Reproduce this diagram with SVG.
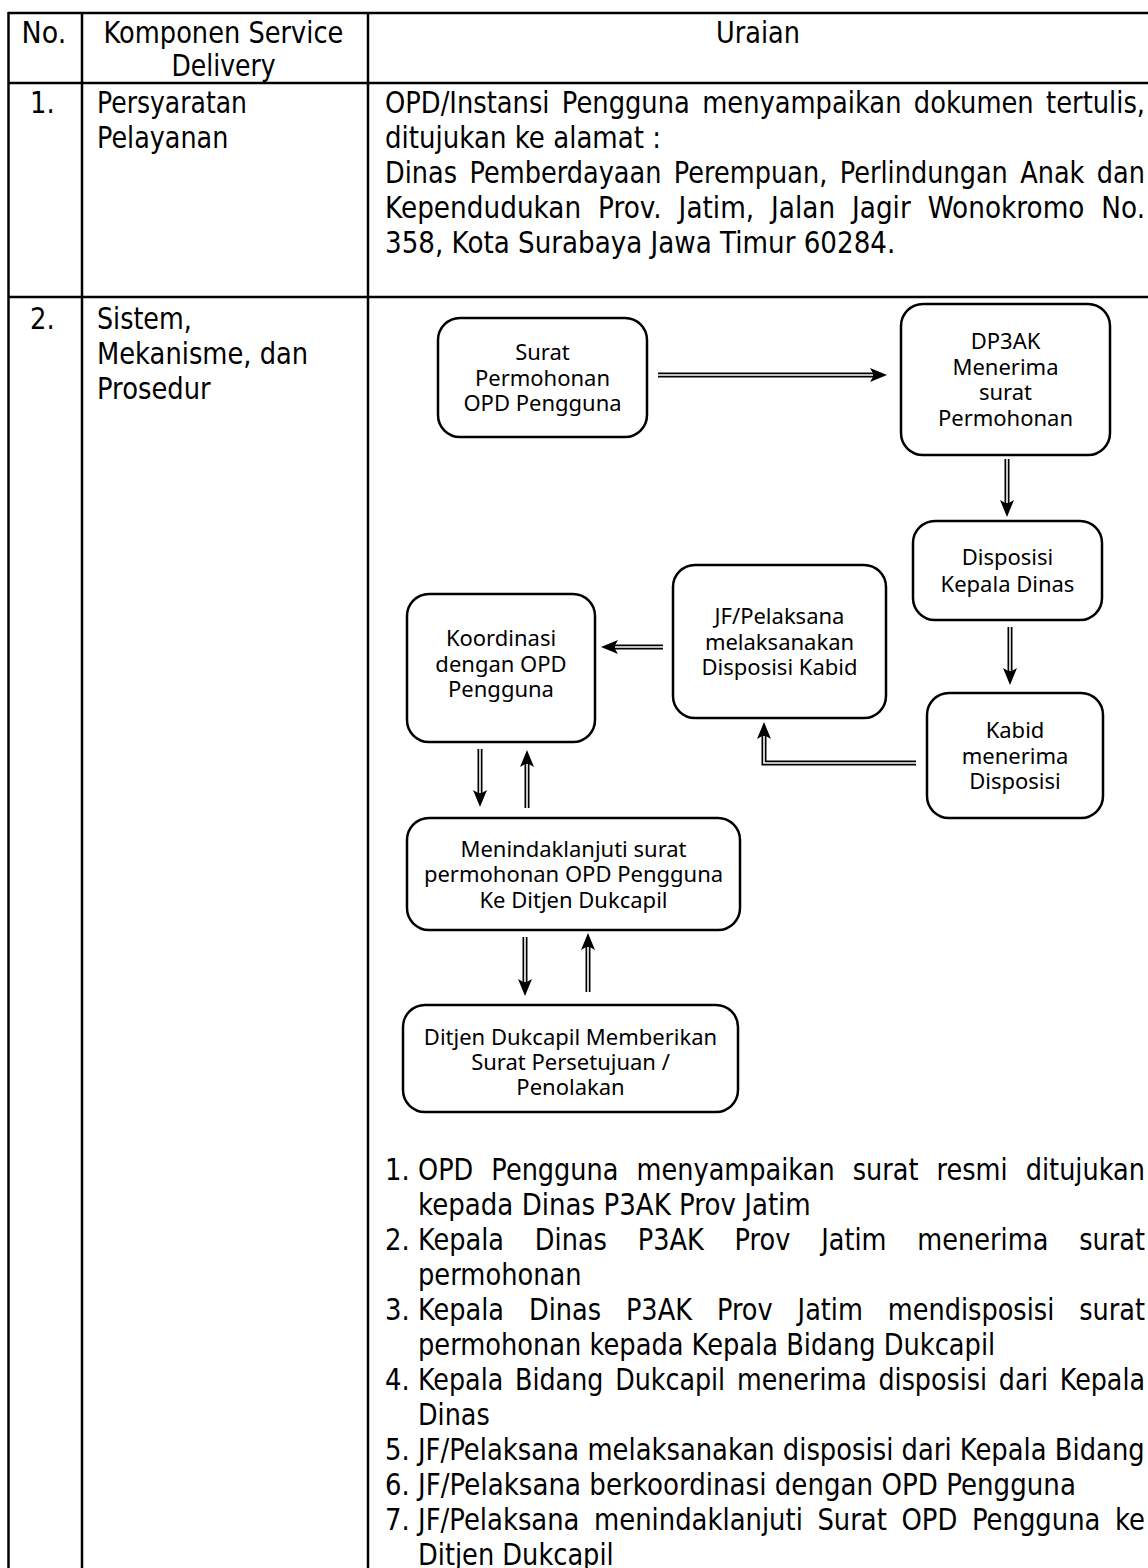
<svg xmlns="http://www.w3.org/2000/svg" width="1148" height="1568" viewBox="0 0 1148 1568">
<style>
.tb{font-family:"DejaVu Sans",sans-serif;font-size:29.4px;fill:#000}
.grid line{stroke:#000;stroke-width:2.5}
.nd rect{fill:#fff;stroke:#000;stroke-width:2.5}
.nd text{font-family:"Noto Sans",sans-serif;font-size:22px;fill:#000;text-anchor:middle}
.cb{fill:none;stroke:#000;stroke-width:5;marker-end:url(#ah)}
.cw{fill:none;stroke:#fff;stroke-width:1.6}
</style>
<defs>
<marker id="ah" markerUnits="userSpaceOnUse" markerWidth="18" markerHeight="16" refX="7" refY="7" orient="auto" overflow="visible">
<path d="M0,0 L17,7 L0,14 L4,7 Z" fill="#000"/>
</marker>
</defs>
<rect width="1148" height="1568" fill="#fff"/>
<g class="grid">
<line x1="8" y1="13" x2="1150" y2="13"/>
<line x1="8" y1="83" x2="1150" y2="83"/>
<line x1="8" y1="297" x2="1150" y2="297"/>
<line x1="8.5" y1="12" x2="8.5" y2="1570"/>
<line x1="82" y1="12" x2="82" y2="1570"/>
<line x1="368" y1="12" x2="368" y2="1570"/>
</g>
<g id="table-text" class="tb">
<text x="21.6" y="43" textLength="44.7" lengthAdjust="spacingAndGlyphs">No.</text>
<text x="103.5" y="43" textLength="239.9" lengthAdjust="spacingAndGlyphs">Komponen Service</text>
<text x="171.4" y="76" textLength="104.3" lengthAdjust="spacingAndGlyphs">Delivery</text>
<text x="716" y="43" textLength="83.9" lengthAdjust="spacingAndGlyphs">Uraian</text>
<text x="30" y="113" textLength="24.7" lengthAdjust="spacingAndGlyphs">1.</text>
<text x="97" y="113" textLength="150" lengthAdjust="spacingAndGlyphs">Persyaratan</text>
<text x="97" y="148" textLength="131.3" lengthAdjust="spacingAndGlyphs">Pelayanan</text>
<text x="385" y="113" textLength="760" lengthAdjust="spacingAndGlyphs" style="word-spacing:4.8px">OPD/Instansi Pengguna menyampaikan dokumen tertulis,</text>
<text x="385" y="148" textLength="276" lengthAdjust="spacingAndGlyphs">ditujukan ke alamat :</text>
<text x="385" y="183" textLength="760" lengthAdjust="spacingAndGlyphs" style="word-spacing:4.9px">Dinas Pemberdayaan Perempuan, Perlindungan Anak dan</text>
<text x="385" y="218" textLength="760" lengthAdjust="spacingAndGlyphs" style="word-spacing:9.5px">Kependudukan Prov. Jatim, Jalan Jagir Wonokromo No.</text>
<text x="385" y="253" textLength="510.3" lengthAdjust="spacingAndGlyphs">358, Kota Surabaya Jawa Timur 60284.</text>
<text x="30" y="329" textLength="24.7" lengthAdjust="spacingAndGlyphs">2.</text>
<text x="97" y="329" textLength="94.8" lengthAdjust="spacingAndGlyphs">Sistem,</text>
<text x="97" y="364" textLength="211.2" lengthAdjust="spacingAndGlyphs">Mekanisme, dan</text>
<text x="97" y="399" textLength="113.7" lengthAdjust="spacingAndGlyphs">Prosedur</text>
<text x="385" y="1180" textLength="24.7" lengthAdjust="spacingAndGlyphs">1.</text>
<text x="418" y="1180" textLength="727" lengthAdjust="spacingAndGlyphs" style="word-spacing:11.4px">OPD Pengguna menyampaikan surat resmi ditujukan</text>
<text x="418" y="1215" textLength="392.8" lengthAdjust="spacingAndGlyphs">kepada Dinas P3AK Prov Jatim</text>
<text x="385" y="1250" textLength="24.7" lengthAdjust="spacingAndGlyphs">2.</text>
<text x="418" y="1250" textLength="727" lengthAdjust="spacingAndGlyphs" style="word-spacing:26px">Kepala Dinas P3AK Prov Jatim menerima surat</text>
<text x="418" y="1285" textLength="163.6" lengthAdjust="spacingAndGlyphs">permohonan</text>
<text x="385" y="1320" textLength="24.7" lengthAdjust="spacingAndGlyphs">3.</text>
<text x="418" y="1320" textLength="727" lengthAdjust="spacingAndGlyphs" style="word-spacing:19.3px">Kepala Dinas P3AK Prov Jatim mendisposisi surat</text>
<text x="418" y="1355" textLength="577.2" lengthAdjust="spacingAndGlyphs">permohonan kepada Kepala Bidang Dukcapil</text>
<text x="385" y="1390" textLength="24.7" lengthAdjust="spacingAndGlyphs">4.</text>
<text x="418" y="1390" textLength="727" lengthAdjust="spacingAndGlyphs" style="word-spacing:4.35px">Kepala Bidang Dukcapil menerima disposisi dari Kepala</text>
<text x="418" y="1425" textLength="71.7" lengthAdjust="spacingAndGlyphs">Dinas</text>
<text x="385" y="1460" textLength="24.7" lengthAdjust="spacingAndGlyphs">5.</text>
<text x="418" y="1460" textLength="726.7" lengthAdjust="spacingAndGlyphs">JF/Pelaksana melaksanakan disposisi dari Kepala Bidang</text>
<text x="385" y="1495" textLength="24.7" lengthAdjust="spacingAndGlyphs">6.</text>
<text x="418" y="1495" textLength="657.9" lengthAdjust="spacingAndGlyphs">JF/Pelaksana berkoordinasi dengan OPD Pengguna</text>
<text x="385" y="1530" textLength="24.7" lengthAdjust="spacingAndGlyphs">7.</text>
<text x="418" y="1530" textLength="727" lengthAdjust="spacingAndGlyphs" style="word-spacing:7.2px">JF/Pelaksana menindaklanjuti Surat OPD Pengguna ke</text>
<text x="418" y="1565" textLength="195.7" lengthAdjust="spacingAndGlyphs">Ditjen Dukcapil</text>
</g>
<g id="connectors">
<path class="cb" d="M658,375 H877"/>
<path class="cb" d="M1007,459 V507"/>
<path class="cb" d="M1010,627 V675"/>
<path class="cb" d="M916,763 H764 V732"/>
<path class="cb" d="M663,647 H611"/>
<path class="cb" d="M480,749 V797"/>
<path class="cb" d="M527,808 V760"/>
<path class="cb" d="M525,937 V986"/>
<path class="cb" d="M588,992 V943"/>
<path class="cw" d="M658,375 H873"/>
<path class="cw" d="M1007,459 V503"/>
<path class="cw" d="M1010,627 V671"/>
<path class="cw" d="M916,763 H764 V736"/>
<path class="cw" d="M663,647 H615"/>
<path class="cw" d="M480,749 V793"/>
<path class="cw" d="M527,808 V764"/>
<path class="cw" d="M525,937 V982"/>
<path class="cw" d="M588,992 V947"/>
</g>
<g id="n-surat" class="nd">
<rect x="438" y="318" width="209" height="119" rx="22"/>
<text x="542.5" y="360">Surat</text>
<text x="542.5" y="385.5">Permohonan</text>
<text x="542.5" y="411">OPD Pengguna</text>
</g>
<g id="n-dp3ak" class="nd">
<rect x="901" y="304" width="209" height="151" rx="22"/>
<text x="1005.5" y="349">DP3AK</text>
<text x="1005.5" y="374.5">Menerima</text>
<text x="1005.5" y="400">surat</text>
<text x="1005.5" y="425.5">Permohonan</text>
</g>
<g id="n-disposisi" class="nd">
<rect x="913" y="521" width="189" height="99" rx="22"/>
<text x="1007.5" y="565">Disposisi</text>
<text x="1007.5" y="591.5">Kepala Dinas</text>
</g>
<g id="n-kabid" class="nd">
<rect x="927" y="693" width="176" height="125" rx="22"/>
<text x="1015" y="738">Kabid</text>
<text x="1015" y="763.5">menerima</text>
<text x="1015" y="789">Disposisi</text>
</g>
<g id="n-jf" class="nd">
<rect x="673" y="565" width="213" height="153" rx="22"/>
<text x="779.5" y="624">JF/Pelaksana</text>
<text x="779.5" y="649.5">melaksanakan</text>
<text x="779.5" y="675">Disposisi Kabid</text>
</g>
<g id="n-koordinasi" class="nd">
<rect x="407" y="594" width="188" height="148" rx="22"/>
<text x="501" y="646">Koordinasi</text>
<text x="501" y="671.5">dengan OPD</text>
<text x="501" y="697">Pengguna</text>
</g>
<g id="n-menindaklanjuti" class="nd">
<rect x="407" y="818" width="333" height="112" rx="22"/>
<text x="573.5" y="856.5">Menindaklanjuti surat</text>
<text x="573.5" y="882">permohonan OPD Pengguna</text>
<text x="573.5" y="907.5">Ke Ditjen Dukcapil</text>
</g>
<g id="n-ditjen" class="nd">
<rect x="403" y="1005" width="335" height="107" rx="22"/>
<text x="570.5" y="1045">Ditjen Dukcapil Memberikan</text>
<text x="570.5" y="1070">Surat Persetujuan /</text>
<text x="570.5" y="1095">Penolakan</text>
</g>
</svg>
